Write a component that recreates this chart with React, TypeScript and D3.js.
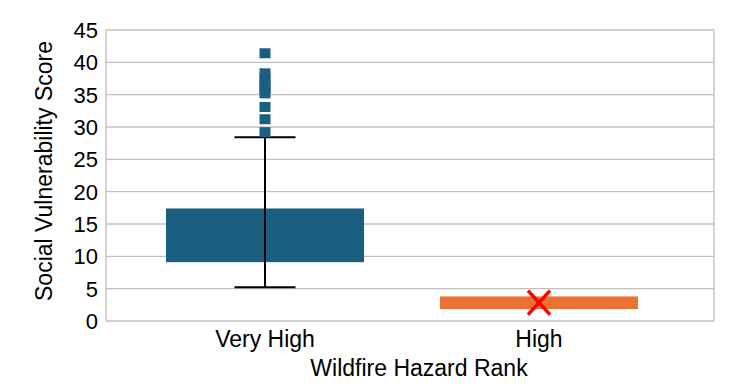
import React from "react";
import * as d3 from "d3";

const categories = ["Very High", "High"];
const q1Values = [9.1, 1.85];
const q3Values = [17.4, 3.8];
const whiskerLow: (number | null)[] = [5.2, null];
const whiskerHigh: (number | null)[] = [28.4, null];
const meanValues: (number | null)[] = [null, 2.85];
const outliersVeryHigh = [41.4, 38.3, 37.5, 36.7, 35.9, 35.2, 33.1, 31.2, 29.2];
const yTicks = [0, 5, 10, 15, 20, 25, 30, 35, 40, 45];
const boxColors = ["#1A5F7F", "#EB7233"];

const W = 754;
const H = 388;
const plotLeft = 106;
const plotRight = 714;
const plotTop = 30;
const plotBottom = 321;
const font = "'Liberation Sans', Arial, sans-serif";

export default function App() {
  const y = d3.scaleLinear().domain([0, 45]).range([plotBottom, plotTop]);
  const x = d3.scalePoint<string>().domain(categories).range([265, 539]);
  const boxW = 198;
  const capW = 61;
  const mk = 11;
  const mkH = 10;
  const grid = "#BFBFBF";

  return (
    <div style={{ position: "absolute", left: 0, top: 0 }}>
      <svg width={W} height={H} style={{ display: "block", background: "#fff" }}>
        {yTicks.map((t) => (
          <line key={"g" + t} x1={plotLeft} x2={plotRight} y1={y(t)} y2={y(t)} stroke={grid} strokeWidth={1.3} />
        ))}
        <line x1={plotLeft} x2={plotLeft} y1={plotTop} y2={plotBottom} stroke={grid} strokeWidth={1.3} />
        <line x1={plotRight} x2={plotRight} y1={plotTop} y2={plotBottom} stroke={grid} strokeWidth={1.3} />
        {yTicks.map((t) => (
          <text key={"t" + t} x={98} y={y(t)} dy="0.36em" textAnchor="end" fontFamily={font} fontSize={22} fill="#000">
            {t}
          </text>
        ))}
        {categories.map((c, i) => {
          const cx = x(c)!;
          return (
            <g key={c}>
              <rect x={cx - boxW / 2} y={y(q3Values[i])} width={boxW} height={y(q1Values[i]) - y(q3Values[i])} fill={boxColors[i]} />
              {whiskerLow[i] != null && whiskerHigh[i] != null && (
                <g stroke="#000" strokeWidth={2}>
                  <line x1={cx} x2={cx} y1={y(whiskerLow[i]!)} y2={y(whiskerHigh[i]!)} />
                  <line x1={cx - capW / 2} x2={cx + capW / 2} y1={y(whiskerLow[i]!)} y2={y(whiskerLow[i]!)} />
                  <line x1={cx - capW / 2} x2={cx + capW / 2} y1={y(whiskerHigh[i]!)} y2={y(whiskerHigh[i]!)} />
                </g>
              )}
              {meanValues[i] != null && (
                <g stroke="#FF0000" strokeWidth={3.5}>
                  <line x1={cx - 11} x2={cx + 11} y1={y(meanValues[i]!) - 12} y2={y(meanValues[i]!) + 12} />
                  <line x1={cx - 11} x2={cx + 11} y1={y(meanValues[i]!) + 12} y2={y(meanValues[i]!) - 12} />
                </g>
              )}
              <text x={cx} y={347} textAnchor="middle" fontFamily={font} fontSize={23} fill="#000">
                {c}
              </text>
            </g>
          );
        })}
        {outliersVeryHigh.map((v, i) => (
          <rect key={"o" + i} x={x(categories[0])! - mk / 2} y={y(v) - mkH / 2} width={mk} height={mkH} fill={boxColors[0]} />
        ))}
        <text x={419} y={376} textAnchor="middle" fontFamily={font} fontSize={23} fill="#000">
          Wildfire Hazard Rank
        </text>
        <text transform={`translate(52, ${171}) rotate(-90)`} textAnchor="middle" fontFamily={font} fontSize={23} fill="#000">
          Social Vulnerability Score
        </text>
      </svg>
    </div>
  );
}
